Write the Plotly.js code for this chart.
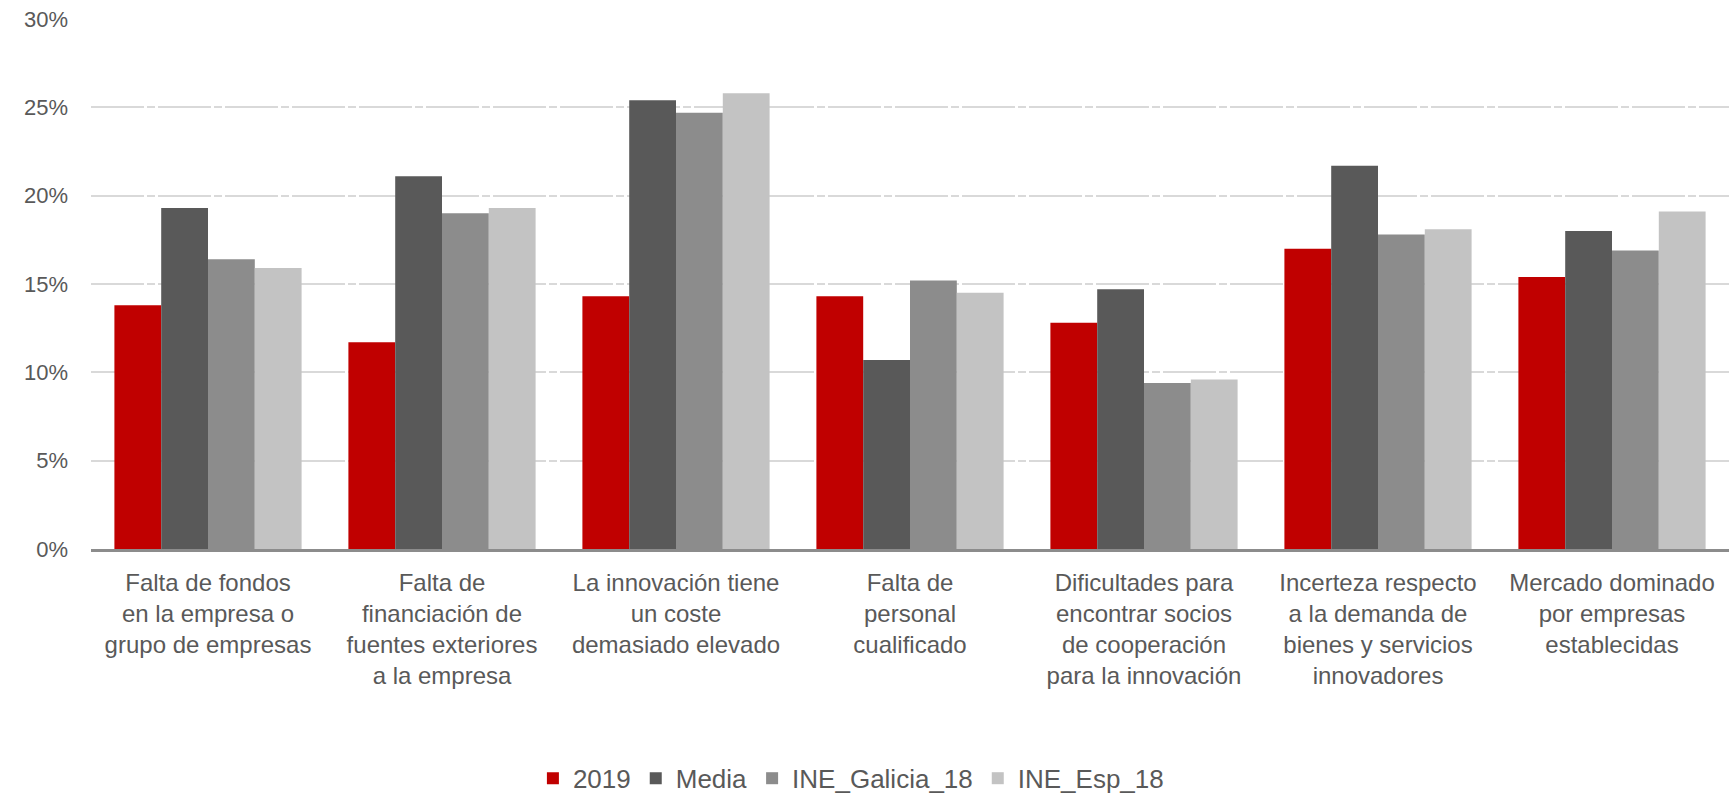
<!DOCTYPE html>
<html>
<head>
<meta charset="utf-8">
<script src="https://cdn.plot.ly/plotly-3.0.1.min.js"></script>
<style>html,body{margin:0;padding:0;background:#fff;}#chart{width:1733px;height:795px;}</style>
</head>
<body>
<div id="chart"></div>
<script>
const categories = [
  "Falta de fondos<br>en la empresa o<br>grupo de empresas",
  "Falta de<br>financiación de<br>fuentes exteriores<br>a la empresa",
  "La innovación tiene<br>un coste<br>demasiado elevado",
  "Falta de<br>personal<br>cualificado",
  "Dificultades para<br>encontrar socios<br>de cooperación<br>para la innovación",
  "Incerteza respecto<br>a la demanda de<br>bienes y servicios<br>innovadores",
  "Mercado dominado<br>por empresas<br>establecidas"
];
const seriesNames = ["2019", "Media", "INE_Galicia_18", "INE_Esp_18"];
const v2019 = [13.8, 11.7, 14.3, 14.3, 12.8, 17.0, 15.4];
const vMedia = [19.3, 21.1, 25.4, 10.7, 14.7, 21.7, 18.0];
const vGalicia = [16.4, 19.0, 24.7, 15.2, 9.4, 17.8, 16.9];
const vEsp = [15.9, 19.3, 25.8, 14.5, 9.6, 18.1, 19.1];
const yTickVals = [0, 5, 10, 15, 20, 25, 30];
const yTickText = ["0%", "5%", "10%", "15%", "20%", "25%", "30%"];
const colors = ["#C00000", "#595959", "#8C8C8C", "#C3C3C3"];

const values = [v2019, vMedia, vGalicia, vEsp];
const traces = values.map((v, i) => ({
  type: "bar",
  name: seriesNames[i],
  x: categories,
  y: v,
  marker: {color: colors[i]},
  hoverinfo: "y+name"
}));

const layout = {
  width: 1733,
  height: 795,
  margin: {l: 91, r: 4, t: 19, b: 246},
  paper_bgcolor: "#ffffff",
  plot_bgcolor: "#ffffff",
  barmode: "group",
  bargap: 0.2,
  bargroupgap: 0,
  font: {family: "Liberation Sans, Arial, sans-serif", color: "#595959"},
  xaxis: {
    showgrid: false,
    showline: true,
    linecolor: "#8C8C8C",
    linewidth: 3,
    ticks: "",
    ticklabelstandoff: 10,
    tickfont: {size: 24, color: "#595959"},
    tickangle: 0,
    automargin: false
  },
  yaxis: {
    range: [0, 30],
    tickvals: yTickVals,
    ticktext: yTickText,
    showgrid: true,
    gridcolor: "#D9D9D9",
    gridwidth: 2,
    griddash: "53px,3px,8px,3px",
    zeroline: false,
    showline: false,
    ticks: "",
    ticklabelstandoff: 22,
    tickfont: {size: 22, color: "#595959"},
    automargin: false
  },
  showlegend: true,
  legend: {
    orientation: "h",
    xref: "container",
    yref: "container",
    x: 0.491,
    xanchor: "center",
    y: 0.021,
    yanchor: "middle",
    font: {size: 26, color: "#595959"},
    itemwidth: 30,
    traceorder: "normal"
  }
};

Plotly.newPlot("chart", traces, layout, {displayModeBar: false, staticPlot: true});
</script>
</body>
</html>
